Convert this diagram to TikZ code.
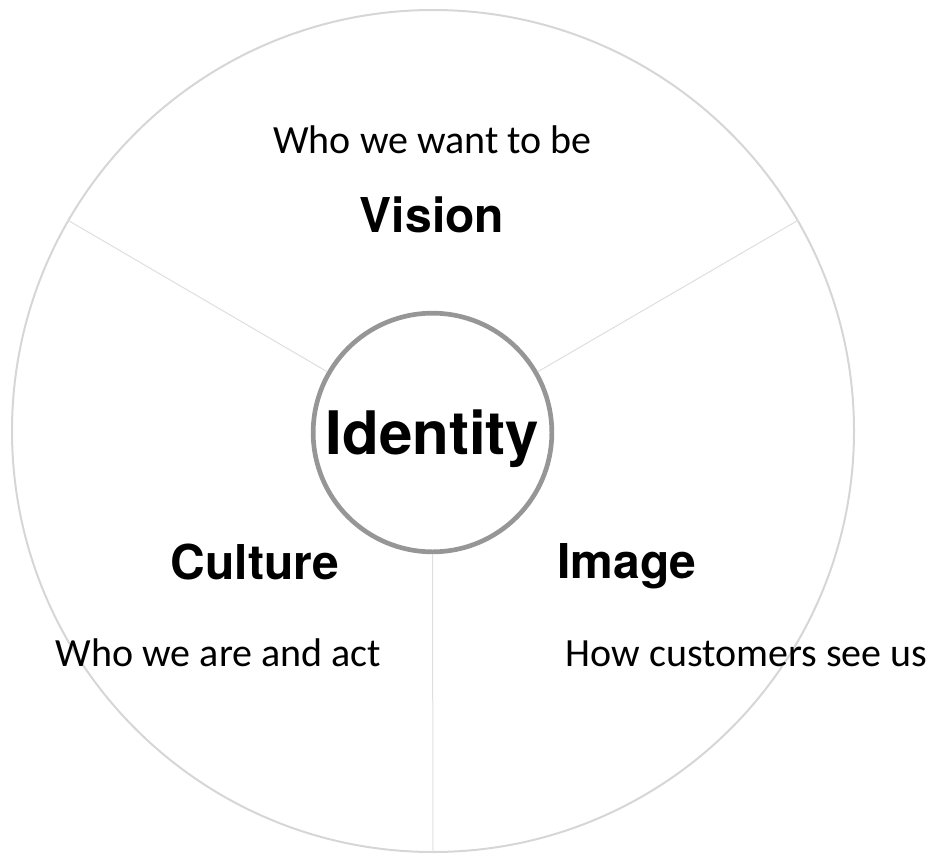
\documentclass[tikz,border=0pt]{standalone}
\usepackage{fontspec}
\setmainfont{Carlito}
\newfontfamily\headfont{TeX Gyre Heros}
\definecolor{rimgray}{RGB}{214, 214, 214}
\definecolor{spokegray}{RGB}{222, 222, 222}
\definecolor{hubgray}{RGB}{150, 150, 150}

\begin{document}
\begin{tikzpicture}[x=0.75pt, y=-0.75pt,
    title/.style={font=\headfont\bfseries\fontsize{36}{40}\selectfont, anchor=base},
    caption/.style={font=\fontsize{30}{34}\selectfont, anchor=base},
    spoke/.style={draw=spokegray, line width=0.75pt}]
    \useasboundingbox (0,0) rectangle (935,853);

    % Outer wheel
    \node[circle, draw=rimgray, line width=1.5pt, minimum size=631.5pt, inner sep=0pt] (wheel) at (433,431) {};

    % Hub
    \node[circle, draw=hubgray, fill=white, line width=3.5pt, minimum size=179pt, inner sep=0pt, text depth=0pt,
        font=\headfont\bfseries\fontsize{45}{50}\selectfont] (identity) at (432.5,432.5) {Identity};

    % Spokes
    \draw[spoke] (identity.150) -- (wheel.150);
    \draw[spoke] (identity.30) -- (wheel.30);
    \draw[spoke] (identity.270) -- (wheel.270);

    % Vision
    \node[caption] (visionsub) at (432.5,153) {Who we want to be};
    \node[title] (vision) at (432,232) {Vision};

    % Culture
    \node[title] (culture) at (255,579) {Culture};
    \node[caption] (culturesub) at (218.5,666) {Who we are and act};

    % Image
    \node[title] (image) at (627,578) {Image};
    \node[caption] (imagesub) at (746.5,666) {How customers see us};
\end{tikzpicture}
\end{document}
